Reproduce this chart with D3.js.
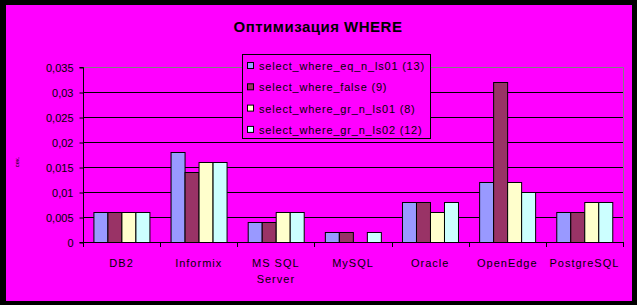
<!DOCTYPE html>
<html>
<head>
<meta charset="utf-8">
<script src="https://cdn.jsdelivr.net/npm/d3@7"></script>
<style>
  html, body { margin: 0; padding: 0; background: #000; }
  svg { display: block; }
  text { font-family: "Liberation Sans", Arial, sans-serif; }
</style>
</head>
<body>
<script>
// Query timings per DBMS (seconds)
const categories = ["DB2", "Informix", "MS SQL Server", "MySQL", "Oracle", "OpenEdge", "PostgreSQL"];
const seriesNames = [
  "select_where_eq_n_ls01 (13)",
  "select_where_false (9)",
  "select_where_gr_n_ls01 (8)",
  "select_where_gr_n_ls02 (12)"
];
const eqN01   = [0.006, 0.018, 0.004, 0.002, 0.008, 0.012, 0.006];
const whFalse = [0.006, 0.014, 0.004, 0.002, 0.008, 0.032, 0.006];
const grN01   = [0.006, 0.016, 0.006, 0,     0.006, 0.012, 0.008];
const grN02   = [0.006, 0.016, 0.006, 0.002, 0.008, 0.010, 0.008];
const seriesValues = [eqN01, whFalse, grN01, grN02];
const colors = ["#9999FF", "#993366", "#FFFFCC", "#CCFFFF"];
const yTicks = [0, 0.005, 0.01, 0.015, 0.02, 0.025, 0.03, 0.035];
const yTickLabels = ["0", "0,005", "0,01", "0,015", "0,02", "0,025", "0,03", "0,035"];
const title = "Оптимизация WHERE";
const yTitle = "сек.";

const W = 637, H = 305;
const svg = d3.select("body").append("svg").attr("width", W).attr("height", H);

// Outer black frame and magenta chart area
svg.append("rect").attr("width", W).attr("height", H).attr("fill", "#000");
svg.append("rect").attr("x", 6).attr("y", 5).attr("width", 626).attr("height", 296).attr("fill", "#FF00FF");

const plot = { left: 83, right: 623, top: 67, bottom: 242 };

const x = d3.scaleBand().domain(categories).range([plot.left, plot.right]).paddingInner(0.27).paddingOuter(0.135);
const xBand = d3.scaleBand().domain(categories).range([plot.left, plot.right]);
const xs = d3.scaleBand().domain(d3.range(seriesNames.length)).range([0, x.bandwidth()]);
const y = d3.scaleLinear().domain([0, 0.035]).range([plot.bottom, plot.top]);

// Gridlines
svg.append("g").selectAll("line").data(yTicks.slice(1, -1)).join("line")
  .attr("x1", plot.left).attr("x2", plot.right)
  .attr("y1", d => Math.round(y(d)) + 0.5).attr("y2", d => Math.round(y(d)) + 0.5)
  .attr("stroke", "#000").attr("stroke-width", 1);

// Plot area border (top and right, gray)
svg.append("path")
  .attr("d", `M${plot.left},${plot.top + 0.5}H${plot.right + 0.5}V${plot.bottom}`)
  .attr("fill", "none").attr("stroke", "#808080").attr("stroke-width", 1);

// Bars
const groups = svg.append("g").selectAll("g").data(categories).join("g")
  .attr("transform", d => `translate(${x(d)},0)`);
groups.selectAll("rect")
  .data((c, i) => seriesValues.map((vals, s) => ({ s, v: vals[i] })).filter(d => d.v > 0))
  .join("rect")
  .attr("x", d => Math.round(xs(d.s)) + 0.5)
  .attr("width", d => Math.round(xs.bandwidth()))
  .attr("y", d => Math.round(y(d.v)) + 0.5)
  .attr("height", d => Math.round(y(0)) - Math.round(y(d.v)))
  .attr("fill", d => colors[d.s])
  .attr("stroke", "#000").attr("stroke-width", 1);

// Y axis
const yAxis = d3.axisLeft(y).tickValues(yTicks).tickSize(4).tickFormat((d, i) => yTickLabels[i]);
const gy = svg.append("g").attr("transform", `translate(${plot.left + 0.5},0.5)`).call(yAxis);
gy.select(".domain").attr("stroke", "#000").attr("d", `M-4,${plot.top}H0V${plot.bottom}H-4`);
gy.selectAll(".tick line").attr("stroke", "#000");
gy.selectAll(".tick text").attr("font-size", 11).attr("fill", "#000").attr("x", -10)
  .attr("font-family", "'Liberation Sans', Arial, sans-serif");

// X axis with ticks on band boundaries
svg.append("line").attr("x1", plot.left).attr("x2", plot.right + 1)
  .attr("y1", plot.bottom + 0.5).attr("y2", plot.bottom + 0.5).attr("stroke", "#000");
const bounds = categories.map(c => xBand(c)).concat([plot.right]);
svg.append("g").selectAll("line").data(bounds).join("line")
  .attr("x1", d => Math.round(d) + 0.5).attr("x2", d => Math.round(d) + 0.5)
  .attr("y1", plot.bottom).attr("y2", plot.bottom + 5).attr("stroke", "#000");

// Category labels (wrapped as two lines where needed)
const catLabels = svg.append("g").selectAll("text").data(categories).join("text")
  .attr("x", d => xBand(d) + xBand.bandwidth() / 2)
  .attr("y", 267)
  .attr("text-anchor", "middle").attr("font-size", 11).attr("letter-spacing", 1)
  .attr("fill", "#000");
catLabels.each(function (d) {
  const parts = d === "MS SQL Server" ? ["MS SQL", "Server"] : [d];
  const t = d3.select(this);
  parts.forEach((p, i) => t.append("tspan")
    .attr("x", xBand(d) + xBand.bandwidth() / 2).attr("dy", i === 0 ? 0 : 16).text(p));
});

// Title
svg.append("text").attr("x", 318).attr("y", 32).attr("text-anchor", "middle")
  .attr("font-size", 15).attr("font-weight", "bold").attr("letter-spacing", 0.5)
  .attr("fill", "#000").text(title);

// Y axis title
svg.append("text").attr("transform", "translate(19,162) rotate(-90)")
  .attr("text-anchor", "middle").attr("font-size", 6).attr("fill", "#000").text(yTitle);

// Legend
const lg = svg.append("g");
lg.append("rect").attr("x", 242.5).attr("y", 54.5).attr("width", 188).attr("height", 84)
  .attr("fill", "#FF00FF").attr("stroke", "#000").attr("stroke-width", 1);
const items = lg.selectAll("g").data(seriesNames).join("g")
  .attr("transform", (d, i) => `translate(0,${66 + i * 21.3})`);
items.append("rect").attr("x", 247.5).attr("y", -3.5).attr("width", 6).attr("height", 6)
  .attr("fill", (d, i) => colors[i]).attr("stroke", "#000");
items.append("text").attr("x", 259).attr("y", 4).attr("font-size", 11).attr("letter-spacing", 0.8)
  .attr("fill", "#000").text(d => d);
</script>
</body>
</html>
